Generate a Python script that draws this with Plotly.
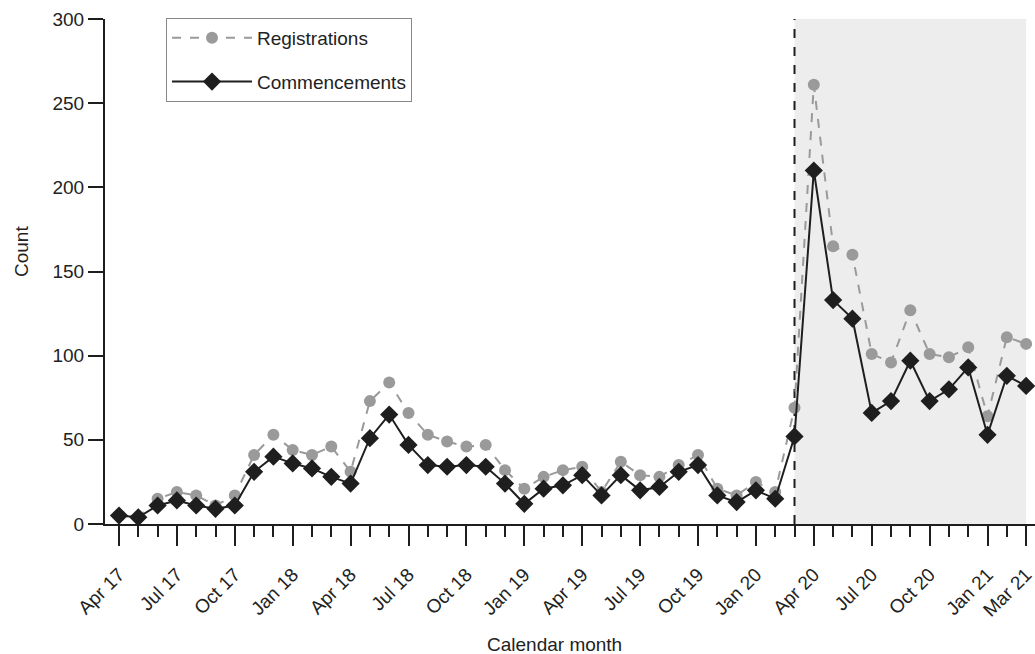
import plotly.graph_objects as go

months = ["Apr 17", "May 17", "Jun 17", "Jul 17", "Aug 17", "Sep 17", "Oct 17", "Nov 17", "Dec 17",
          "Jan 18", "Feb 18", "Mar 18", "Apr 18", "May 18", "Jun 18", "Jul 18", "Aug 18", "Sep 18",
          "Oct 18", "Nov 18", "Dec 18", "Jan 19", "Feb 19", "Mar 19", "Apr 19", "May 19", "Jun 19",
          "Jul 19", "Aug 19", "Sep 19", "Oct 19", "Nov 19", "Dec 19", "Jan 20", "Feb 20", "Mar 20",
          "Apr 20", "May 20", "Jun 20", "Jul 20", "Aug 20", "Sep 20", "Oct 20", "Nov 20", "Dec 20",
          "Jan 21", "Feb 21", "Mar 21"]

registrations = [5, 4, 15, 19, 17, 11, 17, 41, 53, 44, 41, 46, 31, 73, 84, 66, 53, 49,
                 46, 47, 32, 21, 28, 32, 34, 19, 37, 29, 28, 35, 41, 21, 17, 25, 19, 69,
                 261, 165, 160, 101, 96, 127, 101, 99, 105, 64, 111, 107]

commencements = [5, 4, 11, 14, 11, 9, 11, 31, 40, 36, 33, 28, 24, 51, 65, 47, 35, 34,
                 35, 34, 24, 12, 21, 23, 29, 17, 29, 20, 22, 31, 35, 17, 13, 20, 15, 52,
                 210, 133, 122, 66, 73, 97, 73, 80, 93, 53, 88, 82]

tick_labels = ["Apr 17", "Jul 17", "Oct 17", "Jan 18", "Apr 18", "Jul 18", "Oct 18", "Jan 19",
               "Apr 19", "Jul 19", "Oct 19", "Jan 20", "Apr 20", "Jul 20", "Oct 20", "Jan 21", "Mar 21"]

y_ticks = [0, 50, 100, 150, 200, 250, 300]

shade_start = "Mar 20"
shade_end = "Mar 21"

x = list(range(len(months)))
major_vals = [months.index(m) for m in tick_labels]
xs = months.index(shade_start)
xe = months.index(shade_end)

FONT = "Liberation Sans, Arial, sans-serif"
FS = 19
INK = "#1e1e1e"

fig = go.Figure()
fig.add_trace(go.Scatter(
    x=x, y=registrations, name="Registrations", mode="lines+markers", legendgroup="r",
    line=dict(color="#9a9a9a", width=2, dash="dash"),
    marker=dict(symbol="circle", size=12, color="#9a9a9a"),
))
fig.add_trace(go.Scatter(
    x=x, y=commencements, name="Commencements", mode="lines+markers", legendgroup="c",
    line=dict(color=INK, width=2),
    marker=dict(symbol="diamond", size=14, color=INK),
))

fig.add_shape(type="rect", xref="x", yref="y", x0=xs, x1=xe, y0=0, y1=300,
              fillcolor="#ededed", line=dict(width=0), layer="below")
fig.add_shape(type="line", xref="x", yref="y", x0=xs, x1=xs, y0=0, y1=300,
              line=dict(color=INK, width=2, dash="dash"), layer="below")

fig.add_annotation(text="Calendar month", xref="paper", yref="paper", x=0.483, y=-0.2396,
                   xanchor="center", yanchor="middle", showarrow=False,
                   font=dict(size=FS, color="#222222"))
fig.add_annotation(text="Count", xref="paper", yref="paper", x=-0.0903, y=0.5386,
                   xanchor="center", yanchor="middle", textangle=-90, showarrow=False,
                   font=dict(size=FS, color="#222222"))

fig.update_layout(
    width=1035, height=654,
    margin=dict(l=105, r=0, t=19, b=130, autoexpand=False),
    paper_bgcolor="white", plot_bgcolor="white",
    font=dict(family=FONT, size=FS, color="#222222"),
    showlegend=True,
    legend=dict(
        x=0.0656, y=1.002, xanchor="left", yanchor="top",
        bordercolor="#888888", borderwidth=1, bgcolor="white",
        font=dict(size=FS, color="#222222"),
        itemwidth=80, tracegroupgap=16,
    ),
    xaxis=dict(
        range=[-0.725, 47.46], automargin=False,
        tickmode="array", tickvals=major_vals, ticktext=tick_labels, ticklabeloverflow="allow",
        tickangle=-45, ticks="outside", ticklen=20, tickwidth=2, tickcolor=INK,
        ticklabelstandoff=10,
        minor=dict(tickmode="array", tickvals=x, ticks="outside", ticklen=11,
                   tickwidth=2, tickcolor=INK, showgrid=False),
        showline=True, linecolor=INK, linewidth=2,
        showgrid=False, zeroline=False,
        tickfont=dict(size=FS),
    ),
    yaxis=dict(
        range=[0, 300], automargin=False,
        tickvals=y_ticks,
        ticks="outside", ticklen=15, tickwidth=2, tickcolor=INK,
        showline=True, linecolor=INK, linewidth=2,
        showgrid=False, zeroline=False,
        tickfont=dict(size=FS),
    ),
)

fig.write_html("out.html", config={"displayModeBar": False},
               post_script="document.body.style.margin='0';")
